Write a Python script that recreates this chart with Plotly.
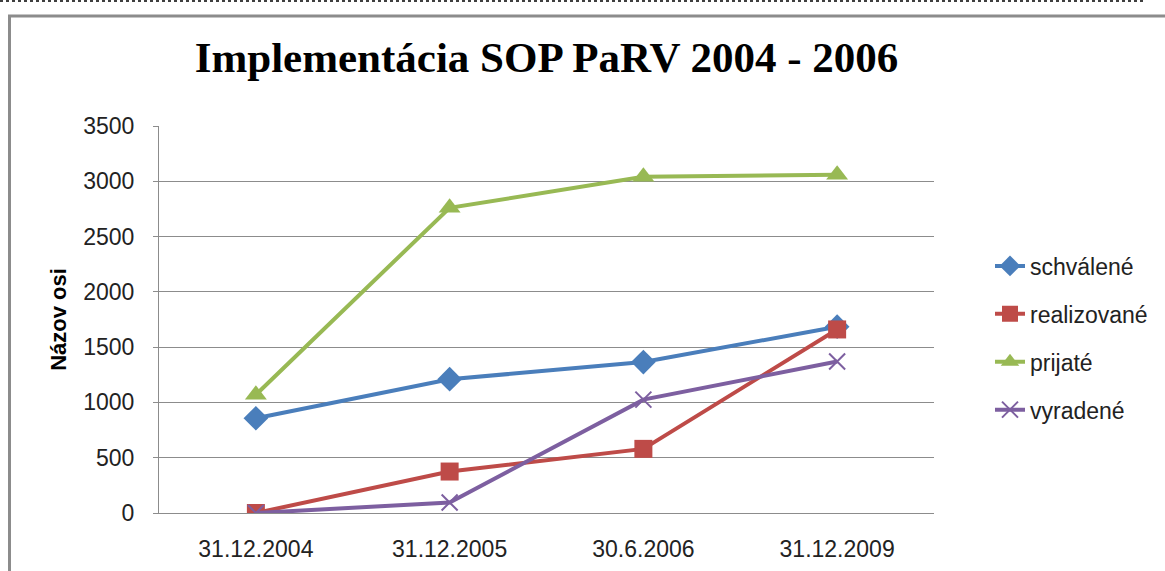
import plotly.graph_objects as go

categories = ["31.12.2004", "31.12.2005", "30.6.2006", "31.12.2009"]
schvalene = [857, 1210, 1365, 1685]
realizovane = [0, 375, 580, 1660]
prijate = [1070, 2760, 3040, 3060]
vyradene = [0, 95, 1025, 1370]
y_ticks = [0, 500, 1000, 1500, 2000, 2500, 3000, 3500]

W, H = 1165, 571
L, R, T, B = 159, 934, 126, 513

def px(x):
    return (x - L) / (R - L)

def py(y):
    return (B - y) / (B - T)

series = [
    ("schválené", schvalene, "#4A7EBB", "diamond", 19, None),
    ("realizované", realizovane, "#BE4B48", "square", 18, None),
    ("prijaté", prijate, "#98B954", "triangle-up", 19, None),
    ("vyradené", vyradene, "#7D5FA0", "x-thin-open", 16, 2),
]

fig = go.Figure()
for name, vals, color, sym, size, lw in series:
    marker = dict(symbol=sym, size=size, color=color)
    if lw:
        marker["line"] = dict(color=color, width=lw)
    else:
        marker["line"] = dict(width=0)
    fig.add_trace(go.Scatter(
        x=categories, y=vals, name=name, mode="lines+markers",
        line=dict(color=color, width=4), marker=marker, legendgroup=name,
    ))

fig.update_layout(
    width=W, height=H,
    margin=dict(l=L, r=W - R, t=T, b=H - B, pad=0, autoexpand=False),
    paper_bgcolor="white", plot_bgcolor="white",
    title=dict(text="<b>Implementácia SOP PaRV 2004 - 2006</b>",
               font=dict(family="Liberation Serif", size=43, color="black"),
               x=0.5, xref="paper", xanchor="center",
               y=1 - 57 / H, yref="container", yanchor="middle"),
    font=dict(family="Liberation Sans", size=23, color="#222"),
    xaxis=dict(showgrid=False, showline=True, linecolor="#8C8C8C", linewidth=1,
               ticks="", tickfont=dict(size=23, color="#222"), automargin=False,
               range=[-0.5, 3.5], ticklabelstandoff=15, fixedrange=True),
    yaxis=dict(range=[0, 3500], tickvals=y_ticks, showgrid=True,
               gridcolor="#8C8C8C", gridwidth=1, showline=True, automargin=False,
               linecolor="#8C8C8C", linewidth=1, ticks="outside", ticklen=5,
               tickcolor="#8C8C8C", tickfont=dict(size=23, color="#222"),
               ticklabelstandoff=14, zeroline=False, fixedrange=True,
               title=dict(text="<b>Názov osi</b>", font=dict(size=22, color="black"),
                          standoff=10)),
    legend=dict(x=px(990), y=py(338), xanchor="left", yanchor="middle",
                font=dict(size=23, color="#222"), tracegroupgap=15,
                bgcolor="rgba(0,0,0,0)", itemwidth=30),
    showlegend=True,
)

# outer chart frame and top dotted rule
fig.add_shape(type="line", xref="paper", yref="paper",
              x0=px(9.5), x1=px(9.5), y0=py(15), y1=py(600),
              line=dict(color="#8C8C8C", width=3))
fig.add_shape(type="line", xref="paper", yref="paper",
              x0=px(8), x1=px(1200), y0=py(16), y1=py(16),
              line=dict(color="#8C8C8C", width=3))
fig.add_shape(type="line", xref="paper", yref="paper",
              x0=px(0), x1=px(1146), y0=py(1), y1=py(1),
              line=dict(color="black", width=1.5, dash="dot"))

fig.write_html("out.html", config={"displayModeBar": False},
               post_script="document.body.style.margin='0px';")
